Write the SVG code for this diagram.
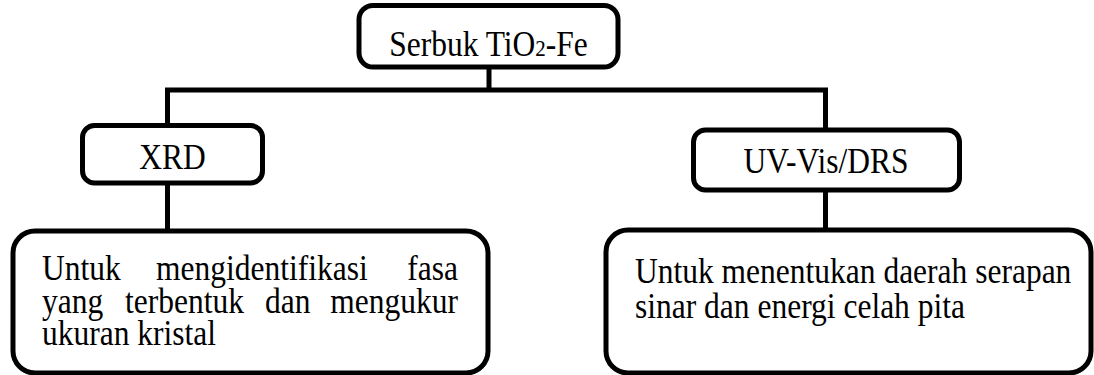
<svg xmlns="http://www.w3.org/2000/svg" width="1094" height="375" viewBox="0 0 1094 375">
  <style>
    .box { fill: #fff; stroke: #000; stroke-width: 5; }
    .conn { fill: none; stroke: #000; stroke-width: 5; }
    .t { font-family: "Liberation Serif", "Times New Roman", serif; font-size: 31.5px; fill: #000; }
  </style>
  <rect width="1094" height="375" fill="#fff"/>
  <g id="connectors">
    <line class="conn" x1="489" y1="67" x2="489" y2="90"/>
    <polyline class="conn" points="167.5,125 167.5,90 825.5,90 825.5,130"/>
    <line class="conn" x1="167.5" y1="183" x2="167.5" y2="231"/>
    <line class="conn" x1="825.5" y1="190" x2="825.5" y2="230"/>
  </g>
  <g id="node-serbuk">
    <rect class="box" x="359" y="5.5" width="259" height="61.5" rx="14"/>
    <text class="t" x="488.5" y="56" text-anchor="middle" transform="matrix(1 0 0 1.12 0 -6.72)">Serbuk TiO<tspan font-size="21px">2</tspan>-Fe</text>
  </g>
  <g id="node-xrd">
    <rect class="box" x="82.5" y="125.5" width="180" height="57.5" rx="12"/>
    <text class="t" x="172.5" y="169" text-anchor="middle" transform="matrix(1 0 0 1.12 0 -20.28)">XRD</text>
  </g>
  <g id="node-uvvis">
    <rect class="box" x="693.5" y="130" width="266" height="60" rx="12"/>
    <text class="t" x="826" y="173" text-anchor="middle" transform="matrix(1 0 0 1.12 0 -20.76)">UV-Vis/DRS</text>
  </g>
  <g id="node-xrd-desc">
    <rect class="box" x="13" y="231" width="475" height="142" rx="22"/>
    <text class="t" y="280" transform="matrix(1 0 0 1.12 0 -33.6)"><tspan x="42">Untuk</tspan><tspan x="156">mengidentifikasi</tspan><tspan x="458" text-anchor="end">fasa</tspan></text>
    <text class="t" y="313" transform="matrix(1 0 0 1.12 0 -37.56)"><tspan x="42">yang</tspan><tspan x="125">terbentuk</tspan><tspan x="265">dan</tspan><tspan x="458" text-anchor="end">mengukur</tspan></text>
    <text class="t" x="42" y="345" transform="matrix(1 0 0 1.12 0 -41.4)">ukuran kristal</text>
  </g>
  <g id="node-uvvis-desc">
    <rect class="box" x="606" y="230" width="485" height="143" rx="22"/>
    <text class="t" x="635" y="283" transform="matrix(1 0 0 1.12 0 -33.96)">Untuk menentukan daerah serapan</text>
    <text class="t" x="635" y="318" transform="matrix(1 0 0 1.12 0 -38.16)">sinar dan energi celah pita</text>
  </g>
</svg>
